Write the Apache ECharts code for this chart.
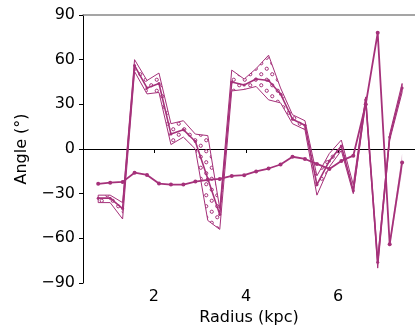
<!DOCTYPE html>
<html><head><meta charset="utf-8">
<script src="https://cdn.jsdelivr.net/npm/echarts@6/dist/echarts.min.js"></script>
<style>html,body{margin:0;padding:0;background:#fff}#c{width:415px;height:331px}</style>
</head><body><div id="c"></div>
<script>
const radius = [0.79, 1.05, 1.32, 1.58, 1.85, 2.11, 2.37, 2.64, 2.90, 3.17, 3.43, 3.69, 3.96, 4.22, 4.49, 4.75, 5.01, 5.28, 5.54, 5.81, 6.07, 6.33, 6.60, 6.86, 7.12, 7.39];
const angleA      = [-33, -33, -40, 56, 41, 44, 10, 13, 5, -20, -44, 45, 43, 47, 46, 37, 20, 16, -24, -8, 2, -28, 33, -76, 8, 41];
const angleAUpper = [-31, -31, -36, 60, 46, 51, 17, 19, 10, 9, -40, 53, 47, 54, 63, 41, 23, 19, -18, -3, 6, -24, 35, -74, 10, 44];
const angleALower = [-36, -36, -47, 52, 37, 38, 3, 8, 0, -48, -54, 39, 40, 42, 33, 31, 17, 13, -31, -12, -1, -30, 31, -80, 6, 38];
const angleB      = [-23.4, -22.6, -22.1, -15.9, -17.4, -23.2, -23.9, -23.9, -21.9, -20.7, -20.1, -18.1, -17.6, -15.1, -13.1, -10.4, -5.2, -6.7, -10.0, -13.4, -8, -4.5, 30, 78, -64, -9];
const angleBUpper = [-23.4, -22.6, -22.1, -15.9, -17.4, -23.2, -23.9, -23.9, -21.9, -20.7, -20.1, -18.1, -17.6, -15.1, -13.1, -10.4, -5.2, -6.7, -10.0, -13.4, -8, -4.5, 30, 78, -62, -3];
const angleBLower = [-23.4, -22.6, -22.1, -15.9, -17.4, -23.2, -23.9, -23.9, -21.9, -20.7, -20.1, -18.1, -17.6, -15.1, -13.1, -10.4, -5.2, -6.7, -10.0, -13.4, -8, -4.5, 30, 78, -66, -15];
const xTickValues = [2, 4, 6];
const yMin = -90, yMax = 90, yStep = 30;

const COLOR = '#a5317a';
const FONT = '"DejaVu Sans", sans-serif';

function hatch() {
  const c = document.createElement('canvas');
  c.width = 11; c.height = 11;
  const g = c.getContext('2d');
  g.strokeStyle = COLOR; g.lineWidth = 1;
  [[2.75, 2.75], [8.25, 8.25]].forEach(p => { g.beginPath(); g.arc(p[0], p[1], 1.6, 0, Math.PI * 2); g.stroke(); });
  return c;
}
const pattern = { image: hatch(), repeat: 'repeat' };

function pair(xs, ys) { return xs.map((x, i) => [x, ys[i]]); }

function bandSeries(upper, lower, style, z) {
  return {
    type: 'custom', z: z, silent: true,
    data: [0],
    renderItem: function (params, api) {
      const pts = [];
      for (let i = 0; i < radius.length; i++) pts.push(api.coord([radius[i], upper[i]]));
      for (let i = radius.length - 1; i >= 0; i--) pts.push(api.coord([radius[i], lower[i]]));
      return { type: 'polygon', shape: { points: pts }, style: style };
    }
  };
}

const chart = echarts.init(document.getElementById('c'), null, { renderer: 'canvas' });
const minus = v => (v < 0 ? '\u2212' + Math.abs(v) : String(v));
chart.setOption({
  animation: false,
  backgroundColor: '#fff',
  grid: { left: 83, right: 0, top: 15, bottom: 47, containLabel: false },
  xAxis: [{
    type: 'value', min: 0.46, max: 7.67,
    name: 'Radius (kpc)', nameLocation: 'middle', nameGap: 27,
    nameTextStyle: { fontFamily: FONT, fontSize: 16, color: '#000' },
    axisLine: { lineStyle: { color: '#000', width: 1 } },
    axisTick: { show: true, length: 4, customValues: xTickValues, lineStyle: { color: '#000' } },
    axisLabel: { customValues: xTickValues, fontFamily: FONT, fontSize: 16, color: '#000', margin: 6 },
    splitLine: { show: false }
  }, {
    type: 'value', position: 'top', min: 0.46, max: 7.67,
    axisLine: { show: true, lineStyle: { color: '#888', width: 1.5 } },
    axisTick: { show: false }, axisLabel: { show: false }, splitLine: { show: false }
  }],
  yAxis: {
    type: 'value', min: yMin, max: yMax, interval: yStep,
    name: 'Angle (°)', nameLocation: 'middle', nameGap: 53, nameRotate: 90,
    nameTextStyle: { fontFamily: FONT, fontSize: 16, color: '#000' },
    axisLine: { show: true, lineStyle: { color: '#000', width: 1 } },
    axisTick: { show: true, length: 4, lineStyle: { color: '#000' } },
    axisLabel: { formatter: minus, fontFamily: FONT, fontSize: 16, color: '#000', margin: 8 },
    splitLine: { show: false }
  },
  series: [
    bandSeries(angleBUpper, angleBLower, { fill: 'rgba(165,49,122,0.35)', stroke: null }, 1),
    bandSeries(angleAUpper, angleALower, { fill: pattern, stroke: COLOR, lineWidth: 1 }, 2),
    {
      type: 'line', z: 3, data: pair(radius, angleA), symbol: 'circle', symbolSize: 3,
      lineStyle: { color: COLOR, width: 1.6 }, itemStyle: { color: COLOR }
    },
    {
      type: 'line', z: 4, data: pair(radius, angleB), symbol: 'circle', symbolSize: 4,
      lineStyle: { color: COLOR, width: 1.8 }, itemStyle: { color: COLOR }
    }
  ]
});
</script></body></html>
